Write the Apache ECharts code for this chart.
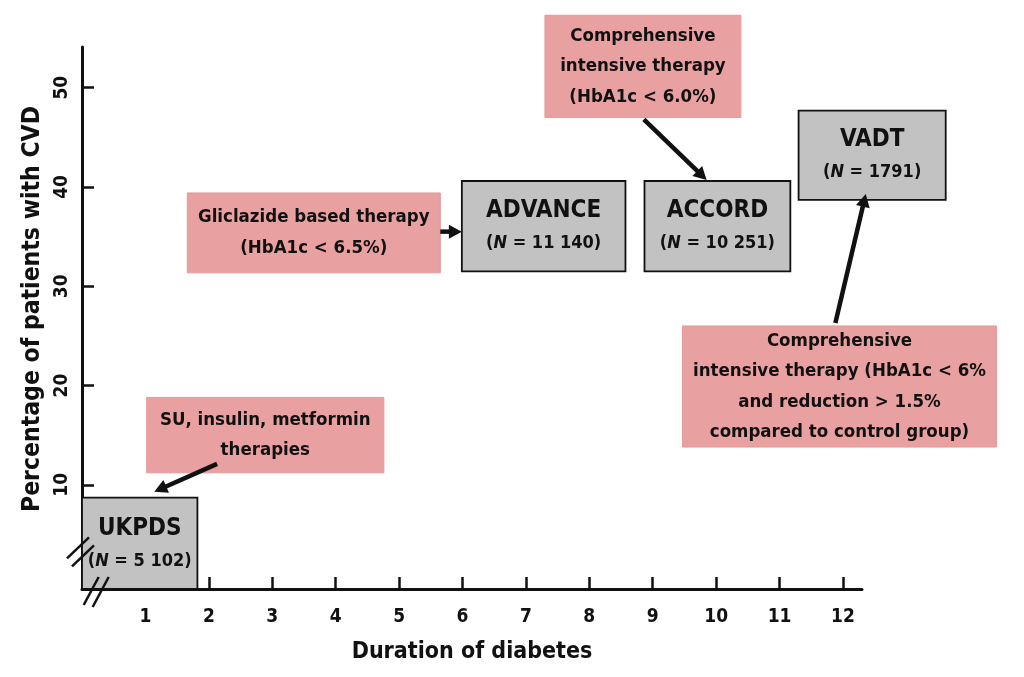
<!DOCTYPE html>
<html>
<head>
<meta charset="utf-8">
<script src="https://cdn.jsdelivr.net/npm/echarts@6/dist/echarts.min.js"></script>
<style>html,body{margin:0;padding:0;background:#fff;}#c{width:1024px;height:677px;}</style>
</head>
<body>
<div id="c"></div>
<script>
// ---- data (in axis units) ----
const xTicks = [1,2,3,4,5,6,7,8,9,10,11,12];
const yTicks = [10,20,30,40,50];

const trialNames = ['UKPDS', 'ADVANCE', 'ACCORD', 'VADT'];
const trialN     = ['5 102', '11 140', '10 251', '1791'];
const trialX0    = [0.0, 5.99, 8.87, 11.30];
const trialX1    = [1.82, 8.57, 11.17, 13.62];
const trialY0    = [-0.5, 31.5, 31.5, 38.7];
const trialY1    = [8.7, 40.6, 40.6, 47.7];

const therapyText = [
  'SU, insulin, metformin\ntherapies',
  'Gliclazide based therapy\n(HbA1c < 6.5%)',
  'Comprehensive\nintensive therapy\n(HbA1c < 6.0%)',
  'Comprehensive\nintensive therapy (HbA1c < 6%\nand reduction > 1.5%\ncompared to control group)'
];
const therapyX0 = [1.02, 1.66, 7.30, 9.47];
const therapyX1 = [4.76, 5.65, 10.39, 14.42];
const therapyY0 = [11.2, 31.35, 47.0, 13.8];
const therapyY1 = [18.8, 39.4, 57.3, 26.0];

const arrowFromX = [2.13, 5.65, 8.86, 11.88];
const arrowFromY = [12.1, 35.5, 46.8, 26.3];
const arrowToX   = [1.14, 5.99, 9.85, 12.36];
const arrowToY   = [9.3, 35.5, 40.7, 39.3];

const FONT = "'Liberation Sans Narrow', 'DejaVu Sans Condensed', sans-serif";

const chart = echarts.init(document.getElementById('c'), null, {renderer: 'canvas'});

const trialData = trialNames.map((n, i) => [trialX0[i], trialX1[i], trialY0[i], trialY1[i], i]);
const therapyData = therapyText.map((t, i) => [therapyX0[i], therapyX1[i], therapyY0[i], therapyY1[i], i]);
const arrowData = arrowFromX.map((x, i) => [x, arrowFromY[i], arrowToX[i], arrowToY[i]]);

function boxRect(api) {
  const p0 = api.coord([api.value(0), api.value(3)]);
  const p1 = api.coord([api.value(1), api.value(2)]);
  return {x: p0[0], y: p0[1], width: p1[0] - p0[0], height: p1[1] - p0[1]};
}

chart.setOption({
  animation: false,
  backgroundColor: '#ffffff',
  grid: {left: 82, right: 162, top: 47, bottom: 88},
  xAxis: {
    type: 'value', min: 0, max: 12.3,
    name: 'Duration of diabetes', nameLocation: 'middle', nameGap: 52,
    nameTextStyle: {fontFamily: FONT, fontWeight: 'bold', fontSize: 23, color: '#111'},
    axisLine: {onZero: false, lineStyle: {color: '#111', width: 3}},
    axisTick: {inside: true, length: 12, lineStyle: {color: '#111', width: 2.5}, customValues: xTicks},
    axisLabel: {customValues: xTicks, fontFamily: FONT, fontWeight: 'bold', fontSize: 19, color: '#111', margin: 19},
    splitLine: {show: false}
  },
  yAxis: {
    type: 'value', min: -0.5, max: 54.1,
    name: 'Percentage of patients with CVD', nameLocation: 'middle', nameGap: 36,
    nameTextStyle: {fontFamily: FONT, fontWeight: 'bold', fontSize: 24.5, color: '#111', padding: [0, 0, 0, 18]},
    axisLine: {onZero: false, lineStyle: {color: '#111', width: 3}},
    axisTick: {inside: true, length: 12, lineStyle: {color: '#111', width: 2.5}, customValues: yTicks},
    axisLabel: {customValues: yTicks, rotate: 90, fontFamily: FONT, fontWeight: 'bold', fontSize: 19, color: '#111', margin: 10},
    splitLine: {show: false}
  },
  series: [
    {
      type: 'custom', name: 'therapies', clip: false, z: 2,
      data: therapyData,
      renderItem: function (params, api) {
        const i = params.dataIndex;
        return {
          type: 'rect', shape: boxRect(api),
          style: {fill: '#e9a0a0', stroke: '#e59a9a', lineWidth: 1},
          textContent: {style: {text: therapyText[i], fontFamily: FONT, fontWeight: 'bold', fontSize: 18.5, fill: '#111', align: 'center', lineHeight: 30.5}},
          textConfig: {position: 'inside'}
        };
      }
    },
    {
      type: 'custom', name: 'trials', clip: false, z: 3,
      data: trialData,
      renderItem: function (params, api) {
        const i = params.dataIndex;
        const txt = '{t|' + trialNames[i] + '}\n{n|(}{ni|N}{n| = ' + trialN[i] + ')}';
        return {
          type: 'rect', shape: boxRect(api),
          style: {fill: '#c2c2c2', stroke: '#111', lineWidth: 1.8},
          textContent: {style: {text: txt, align: 'center', rich: {
            t: {fontFamily: FONT, fontWeight: 'bold', fontSize: 24, fill: '#111', lineHeight: 35},
            n: {fontFamily: FONT, fontWeight: 'bold', fontSize: 18, fill: '#111', lineHeight: 30},
            ni: {fontFamily: FONT, fontWeight: 'bold', fontStyle: 'italic', fontSize: 18, fill: '#111', lineHeight: 30}
          }}},
          textConfig: {position: 'inside'}
        };
      }
    },
    {
      type: 'custom', name: 'arrows', clip: false, z: 4,
      data: arrowData,
      renderItem: function (params, api) {
        const a = api.coord([api.value(0), api.value(1)]);
        const b = api.coord([api.value(2), api.value(3)]);
        const dx = b[0] - a[0], dy = b[1] - a[1];
        const L = Math.sqrt(dx * dx + dy * dy);
        const ux = dx / L, uy = dy / L;
        const hl = 13, hw = 7;
        const bx = b[0] - ux * hl, by = b[1] - uy * hl;
        return {
          type: 'group', children: [
            {type: 'line', shape: {x1: a[0], y1: a[1], x2: bx + ux * 2, y2: by + uy * 2}, style: {stroke: '#111', lineWidth: 4.5}},
            {type: 'polygon', shape: {points: [[b[0], b[1]], [bx - uy * hw, by + ux * hw], [bx + uy * hw, by - ux * hw]]}, style: {fill: '#111'}}
          ]
        };
      }
    },
    {
      type: 'custom', name: 'breaks', clip: false, z: 5,
      data: [[0, 4.0, 0.2, -0.5]],
      renderItem: function (params, api) {
        const p = api.coord([api.value(0), api.value(1)]);
        const q = api.coord([api.value(2), api.value(3)]);
        const st = {stroke: '#111', lineWidth: 2.5};
        return {
          type: 'group', children: [
            {type: 'line', shape: {x1: p[0] - 15, y1: p[1] + 14, x2: p[0] + 7, y2: p[1] - 7}, style: st},
            {type: 'line', shape: {x1: p[0] - 10, y1: p[1] + 22, x2: p[0] + 12, y2: p[1] + 1}, style: st},
            {type: 'line', shape: {x1: q[0] - 11, y1: q[1] + 16, x2: q[0] + 4, y2: q[1] - 12}, style: st},
            {type: 'line', shape: {x1: q[0] - 2, y1: q[1] + 18, x2: q[0] + 14, y2: q[1] - 12}, style: st}
          ]
        };
      }
    }
  ]
});
</script>
</body>
</html>
